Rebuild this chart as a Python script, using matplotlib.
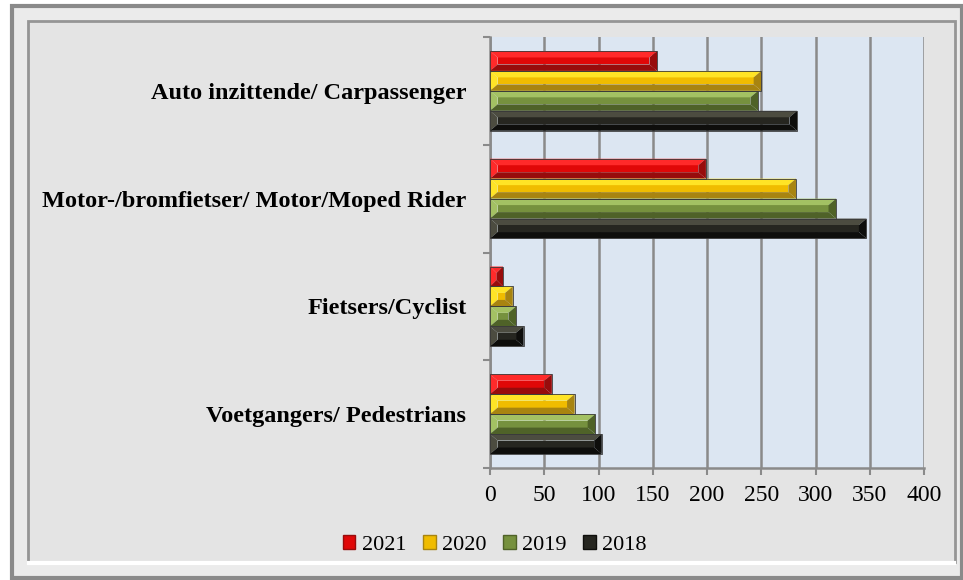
import matplotlib.pyplot as plt
from matplotlib.lines import Line2D
from matplotlib.patches import Polygon, Rectangle

# Victims per road-user group and year
categories = [
    "Auto inzittende/ Carpassenger",
    "Motor-/bromfietser/ Motor/Moped Rider",
    "Fietsers/Cyclist",
    "Voetgangers/ Pedestrians",
]
years = ["2021", "2020", "2019", "2018"]
v2021 = [154, 199, 12, 57]
v2020 = [250, 282, 21, 78]
v2019 = [247, 319, 24, 97]
v2018 = [283, 347, 31, 103]
xticks = [0, 50, 100, 150, 200, 250, 300, 350, 400]

# (light, base, dark) shades for the bevelled bars
SHADES = {
    "2021": ("#ff2a2a", "#e00808", "#980c0c"),
    "2020": ("#ffe426", "#f0bc00", "#a88410"),
    "2019": ("#a3c163", "#76913e", "#4f6228"),
    "2018": ("#4c4c40", "#262620", "#0e0e0c"),
}

SERIF = ["Liberation Serif", "DejaVu Serif"]


def bevel_bar(ax, yc, v, h, shades, bx=7.0, by=0.06):
    light, base, dark = shades
    bx = min(bx, v / 2)
    x0, x1 = 0, v
    y0, y1 = yc - h / 2, yc + h / 2
    xi0, xi1 = bx, v - bx
    yi0, yi1 = y0 + by, y1 - by
    faces = [
        ([(x0, y0), (xi0, yi0), (xi0, yi1), (x0, y1)], light),
        ([(x0, y0), (x1, y0), (xi1, yi0), (xi0, yi0)], light),
        ([(x0, y1), (x1, y1), (xi1, yi1), (xi0, yi1)], dark),
        ([(x1, y0), (xi1, yi0), (xi1, yi1), (x1, y1)], dark),
    ]
    ax.add_patch(Rectangle((xi0, yi0), xi1 - xi0, yi1 - yi0,
                           facecolor=base, edgecolor="none", zorder=3))
    for pts, c in faces:
        ax.add_patch(Polygon(pts, closed=True, facecolor=c,
                             edgecolor="none", zorder=3))
    ax.add_patch(Rectangle((x0, y0), v, h, facecolor="none",
                           edgecolor="#3a3a3a", linewidth=0.6, zorder=4))


def main():
    W, H = 963, 580
    fig = plt.figure(figsize=(W / 100, H / 100), dpi=100)
    fig.patch.set_facecolor("white")

    # double frame around the chart
    fig.add_artist(Rectangle((12 / W, 1 - 578 / H), 950 / W, 572 / H,
                             transform=fig.transFigure, facecolor="#ebebeb",
                             edgecolor="#8a8a8a", linewidth=3, zorder=0))
    fig.add_artist(Rectangle((28 / W, 1 - 562 / H), 927 / W, 541 / H,
                             transform=fig.transFigure, facecolor="#e4e4e4",
                             edgecolor="#959595", linewidth=2, zorder=0))
    fig.add_artist(Line2D([29 / W, 954 / W], [1 - 563 / H, 1 - 563 / H],
                          transform=fig.transFigure, color="white",
                          linewidth=3, zorder=0))

    ax = fig.add_axes([490 / W, 1 - 468 / H, 434 / W, 431 / H])
    ax.set_facecolor("#dce6f2")
    ax.set_zorder(1)

    series = [v2021, v2020, v2019, v2018]
    h = 0.185
    for k, (yr, vals) in enumerate(zip(years, series)):
        off = (k - 1.5) * h
        for i, v in enumerate(vals):
            bevel_bar(ax, i + off, v, h, SHADES[yr])

    ax.set_xlim(0, 400)
    ax.set_ylim(len(categories) - 0.5, -0.5)
    ax.set_xticks(xticks)
    ax.set_xticklabels([str(t) for t in xticks], family=SERIF, fontsize=17)
    ax.set_yticks(range(len(categories)))
    ax.set_yticklabels(categories, family=SERIF, fontsize=17.5,
                       fontweight="bold")
    ax.set_yticks([i - 0.5 for i in range(len(categories) + 1)], minor=True)
    ax.tick_params(axis="y", which="major", length=0, pad=17)
    ax.tick_params(axis="y", which="minor", length=5, width=1.5,
                   color="#8a8a8a")
    ax.tick_params(axis="x", length=5, width=1.5, color="#8a8a8a", pad=7)

    ax.grid(axis="x", color="#8a8a8a", linewidth=1.8, zorder=1)
    ax.set_axisbelow(True)
    for s in ("top", "right"):
        ax.spines[s].set_visible(False)
    for s in ("left", "bottom"):
        ax.spines[s].set_color("#8a8a8a")
        ax.spines[s].set_linewidth(1.8)

    handles = [Rectangle((0, 0), 1, 1, facecolor=SHADES[y][1],
                         edgecolor=SHADES[y][2], linewidth=1.0) for y in years]
    fig.legend(handles, years, loc="center",
               bbox_to_anchor=(495 / W, 1 - 545 / H),
               ncol=4, frameon=False, handlelength=0.55, handleheight=0.55,
               handletextpad=0.3, columnspacing=0.75,
               prop={"family": SERIF, "size": 16})

    fig.savefig("out.png", dpi=100, facecolor=fig.get_facecolor())


if __name__ == "__main__":
    main()
